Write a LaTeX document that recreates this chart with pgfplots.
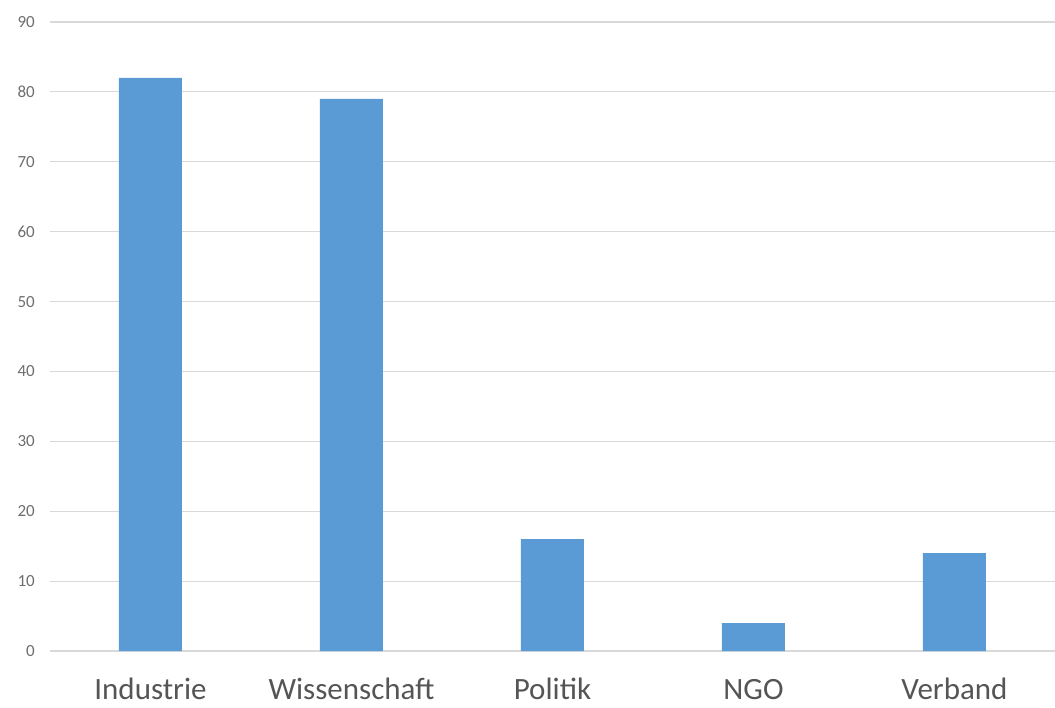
\documentclass[border=0pt]{standalone}
\usepackage{pgfplots}
\pgfplotsset{compat=1.18}
\usepackage{fontspec}
\setmainfont{Carlito}
\definecolor{barblue}{HTML}{5B9BD5}
\definecolor{gridgray}{HTML}{D9D9D9}
\definecolor{ticktxt}{HTML}{6E6E6E}
\definecolor{cattxt}{HTML}{555555}
\begin{document}
\begin{tikzpicture}[x=1pt,y=1pt]
\begin{axis}[
  at={(0pt,0pt)}, anchor=south west,
  scale only axis,
  width=1005pt, height=629pt,
  xmin=-0.5, xmax=4.5,
  ymin=0, ymax=90,
  ytick={0,10,...,90},
  xtick={0,1,2,3,4},
  xticklabels={Industrie,Wissenschaft,Politik,NGO,Verband},
  ymajorgrids,
  grid style={gridgray, line width=1.2pt},
  axis line style={draw=none},
  major tick style={draw=none},
  /pgf/number format/assume math mode=true,
  yticklabel style={font=\fontsize{17}{19}\selectfont, text=ticktxt, anchor=east, inner sep=0pt, xshift=-15pt},
  xticklabel style={font=\fontsize{31}{34}\selectfont, text=cattxt, anchor=base, inner sep=0pt, yshift=-48pt},
  clip=false,
]
\addplot[ybar, bar width=63pt, fill=barblue, draw=none] coordinates {
  (0,82) (1,79) (2,16) (3,4) (4,14)
};
\end{axis}
\pgfresetboundingbox
\path (-50pt,-56pt) rectangle (1005pt,651pt);
\end{tikzpicture}
\end{document}
